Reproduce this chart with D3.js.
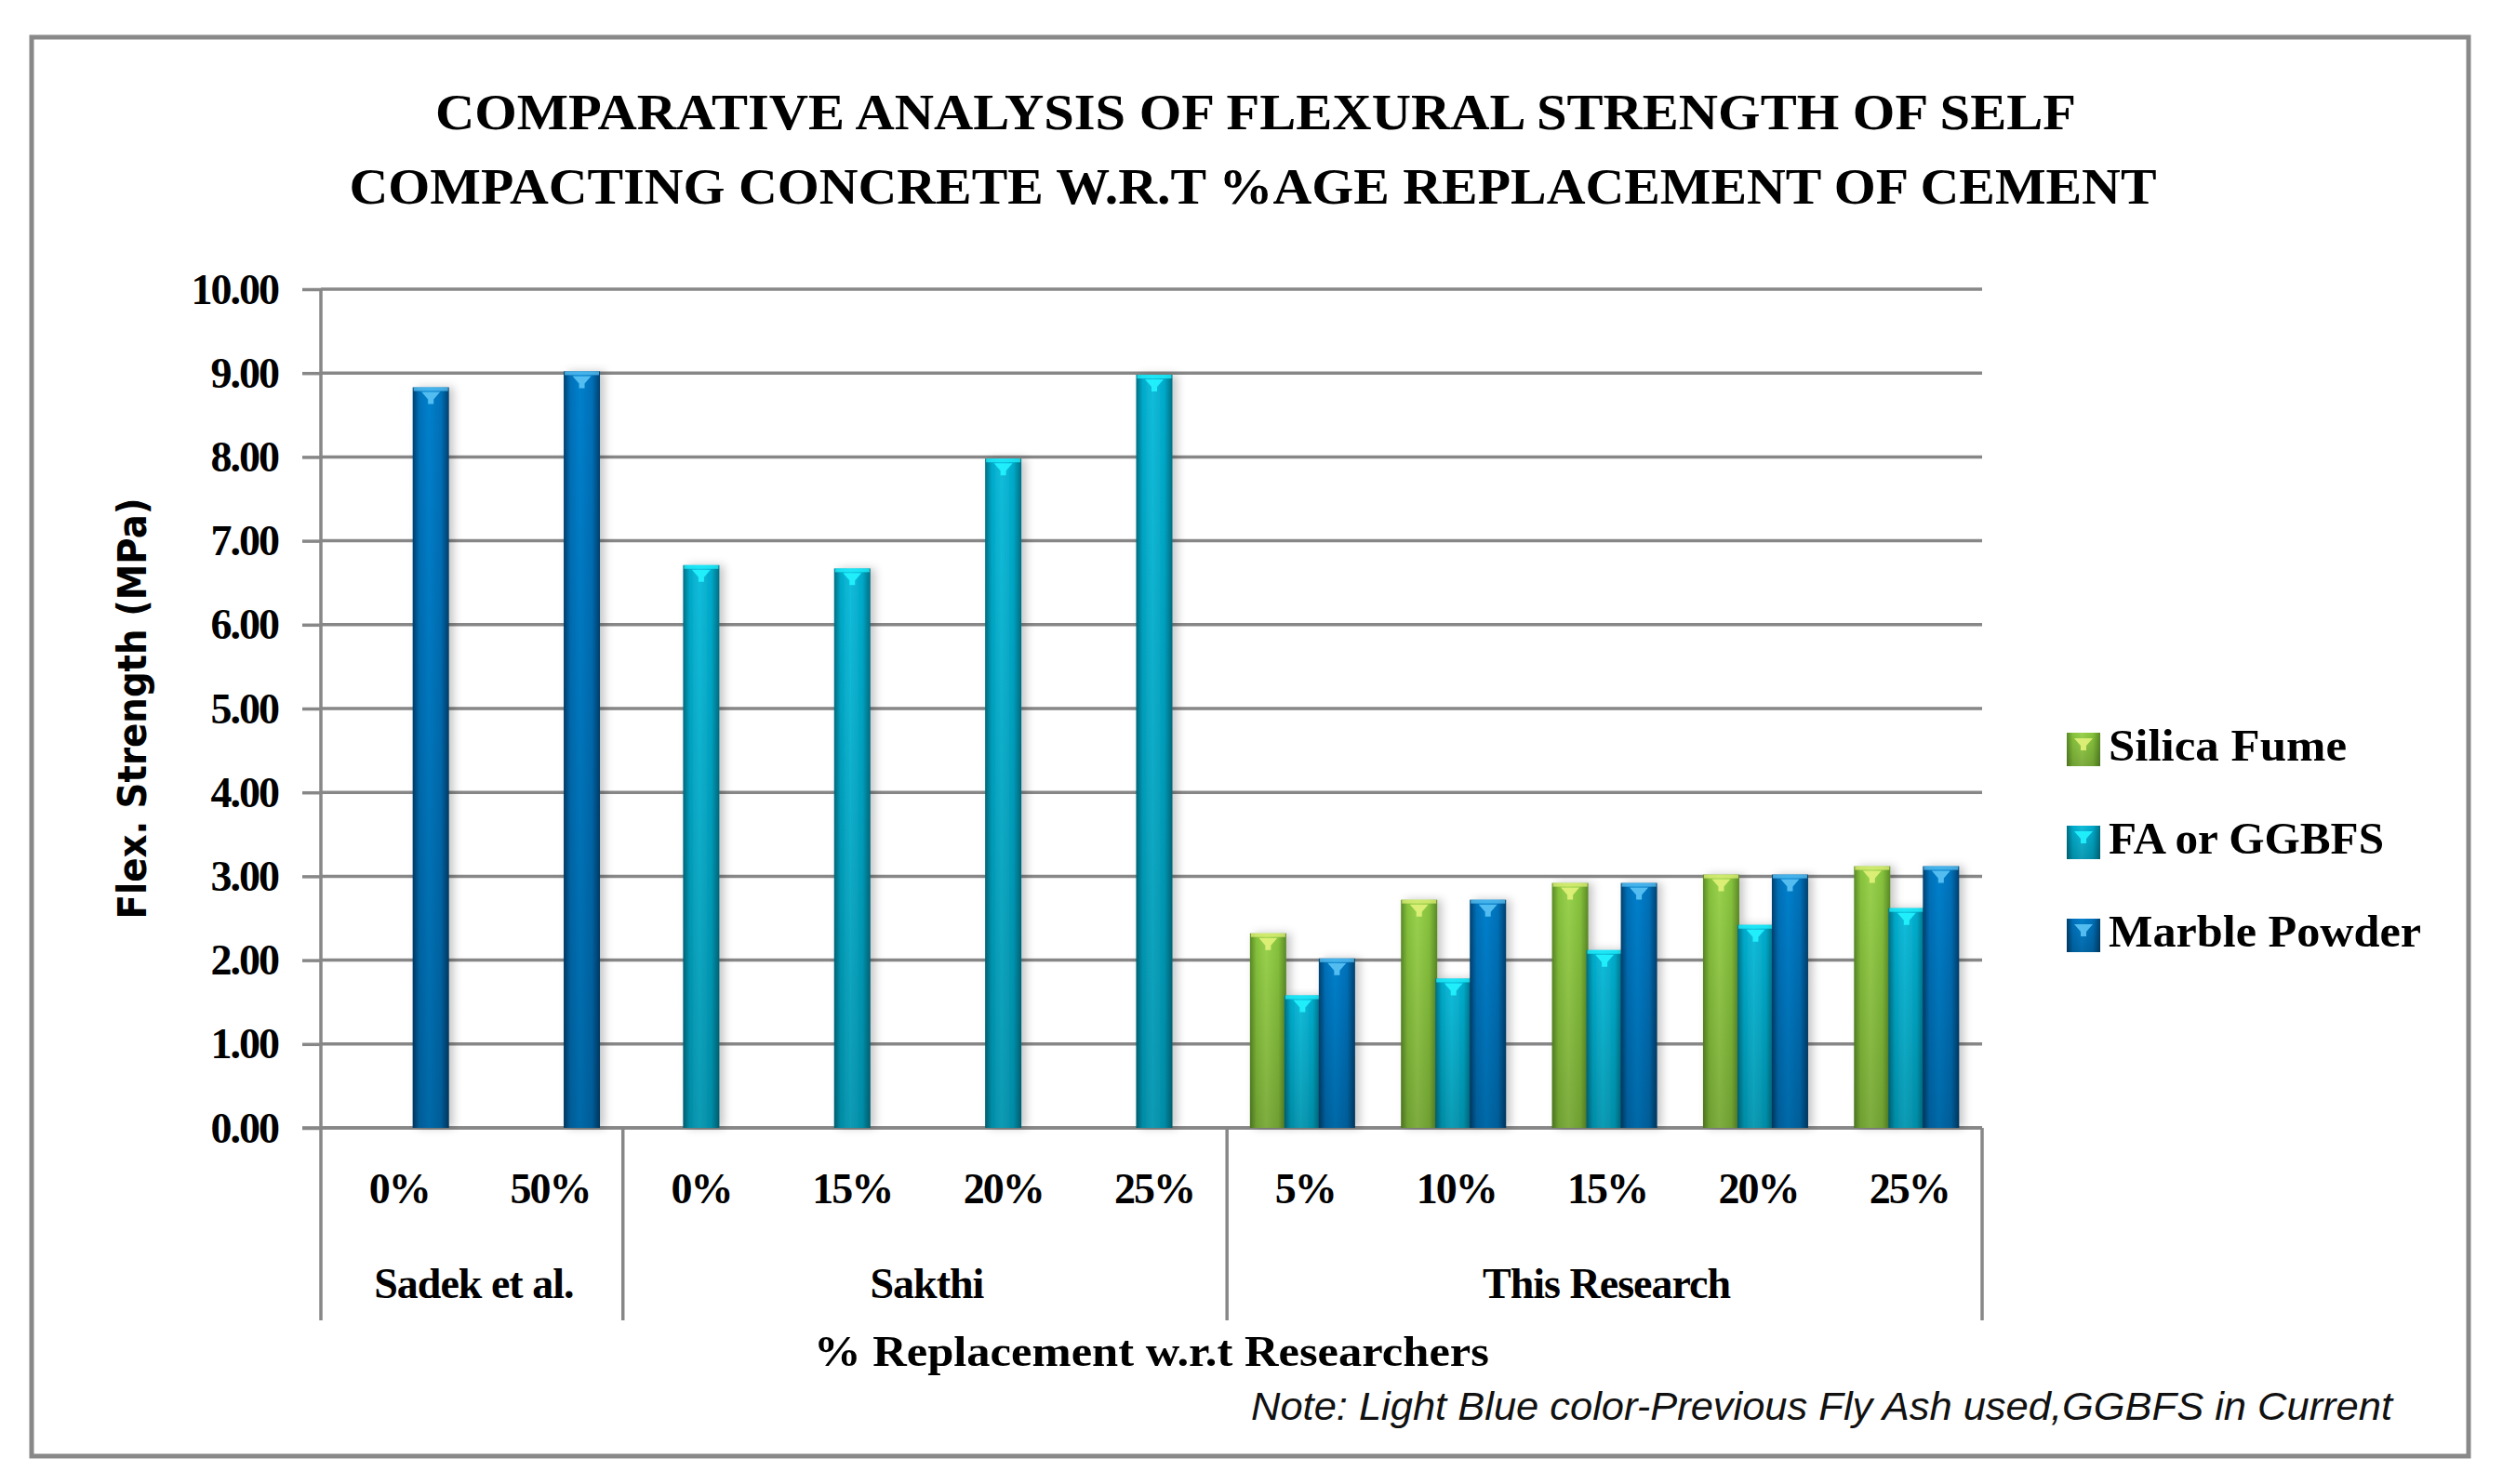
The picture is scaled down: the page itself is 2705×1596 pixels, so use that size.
<!DOCTYPE html>
<meta charset="utf-8">
<style>
  body { margin: 0; background: #fff; }
  text { font-family: "Liberation Serif", "DejaVu Serif", serif; font-weight: bold; fill: #000; }
</style>
<body>
<script src="https://d3js.org/d3.v7.min.js"></script>
<script>

// data
var groupNames = ["Sadek et al.", "Sakthi", "This Research"];
var categoryGroups = ["Sadek et al.", "Sadek et al.",
  "Sakthi", "Sakthi", "Sakthi", "Sakthi",
  "This Research", "This Research", "This Research", "This Research", "This Research"];
var categoryLabels = ["0%", "50%", "0%", "15%", "20%", "25%", "5%", "10%", "15%", "20%", "25%"];

var seriesNames = ["Silica Fume", "FA or GGBFS", "Marble Powder"];
var silicaFume   = [null, null, null, null, null, null, 2.32, 2.72, 2.92, 3.02, 3.12];
var faOrGgbfs    = [null, null, 6.71, 6.67, 7.98, 8.98, 1.58, 1.78, 2.12, 2.42, 2.62];
var marblePowder = [8.83, 9.02, null, null, null, null, 2.02, 2.72, 2.92, 3.02, 3.12];

var yTickValues = [0, 1, 2, 3, 4, 5, 6, 7, 8, 9, 10];

var titleLines = ["COMPARATIVE ANALYSIS OF FLEXURAL STRENGTH OF SELF",
                  "COMPACTING CONCRETE W.R.T %AGE REPLACEMENT OF CEMENT"];

var width = 2705,
    height = 1596;

var plotLeft = 345, plotRight = 2131, plotTop = 311, plotBottom = 1213, catBottom = 1420;

var svg = d3.select("body").append("svg")
    .attr("width", width)
    .attr("height", height);

var defs = svg.append("defs");

var palette = [
  {name: "green", edge: "#5a8a26", body: "#86c23c", light: "#9ad24e", cap: "#e2f27a"},
  {name: "cyan",  edge: "#006f84", body: "#00a9c9", light: "#12bddb", cap: "#22f4ff"},
  {name: "blue",  edge: "#00406f", body: "#0070b8", light: "#0580cc", cap: "#5cc4f5"}
];

palette.forEach(function(p) {
  var g = defs.append("linearGradient")
      .attr("id", "grad-" + p.name)
      .attr("x1", 0).attr("x2", 1).attr("y1", 0).attr("y2", 0);
  g.append("stop").attr("offset", "0%").attr("stop-color", p.edge);
  g.append("stop").attr("offset", "18%").attr("stop-color", p.body);
  g.append("stop").attr("offset", "45%").attr("stop-color", p.light);
  g.append("stop").attr("offset", "78%").attr("stop-color", p.body);
  g.append("stop").attr("offset", "100%").attr("stop-color", p.edge);
  var v = defs.append("linearGradient")
      .attr("id", "shade-" + p.name)
      .attr("x1", 0).attr("x2", 0).attr("y1", 0).attr("y2", 1);
  v.append("stop").attr("offset", "0%").attr("stop-color", "#000").attr("stop-opacity", 0);
  v.append("stop").attr("offset", "100%").attr("stop-color", "#000").attr("stop-opacity", 0.18);
});

var shadow = defs.append("filter").attr("id", "shadow")
    .attr("x", "-30%").attr("y", "-5%").attr("width", "180%").attr("height", "110%");
shadow.append("feDropShadow")
    .attr("dx", 5).attr("dy", 0).attr("stdDeviation", 5)
    .attr("flood-color", "#000").attr("flood-opacity", 0.22);

// outer frame
svg.append("rect")
    .attr("x", 34).attr("y", 40)
    .attr("width", 2654 - 34).attr("height", 1566 - 40)
    .attr("fill", "#fff")
    .attr("stroke", "#898989")
    .attr("stroke-width", 5);

// title
svg.selectAll(".title")
    .data(titleLines)
    .enter().append("text")
    .attr("class", "title")
    .attr("x", function(d, i) { return i == 0 ? 1350 : 1347; })
    .attr("y", function(d, i) { return 139 + i * 80; })
    .attr("text-anchor", "middle")
    .attr("font-size", 54)
    .attr("textLength", function(d, i) { return i == 0 ? 1764 : 1943; })
    .attr("lengthAdjust", "spacingAndGlyphs")
    .text(function(d) { return d; });

var x = d3.scaleBand()
    .domain(d3.range(categoryLabels.length))
    .range([plotLeft, plotRight]);

var offset = d3.scalePoint()
    .domain(seriesNames)
    .range([-37, 37]);

var y = d3.scaleLinear()
    .domain([0, 10])
    .range([plotBottom, plotTop]);

var barWidth = 39;

// gridlines
svg.append("g").selectAll("line")
    .data(yTickValues)
    .enter().append("line")
    .attr("x1", plotLeft).attr("x2", plotRight)
    .attr("y1", function(d) { return y(d); })
    .attr("y2", function(d) { return y(d); })
    .attr("stroke", "#878787")
    .attr("stroke-width", 3.5);

// y axis with ticks out to the left
var yAxis = svg.append("g")
    .attr("transform", "translate(" + plotLeft + ",0)")
    .call(d3.axisLeft(y)
        .tickValues(yTickValues)
        .tickSize(20)
        .tickPadding(26)
        .tickFormat(d3.format(".2f")));
yAxis.select(".domain").remove();
yAxis.selectAll(".tick line").attr("stroke", "#878787").attr("stroke-width", 3.5);
yAxis.selectAll(".tick text")
    .style("font-family", "'Liberation Serif', serif")
    .style("font-weight", "bold")
    .style("font-size", "46px")
    .style("letter-spacing", "-2px")
    .style("fill", "#000")
    .attr("dy", "0.33em");

// category area lines
var axisColor = "#878787";
svg.append("line")
    .attr("x1", plotLeft).attr("x2", plotLeft).attr("y1", plotTop).attr("y2", catBottom)
    .attr("stroke", axisColor).attr("stroke-width", 3.5);
svg.append("line")
    .attr("x1", plotLeft - 20).attr("x2", plotRight).attr("y1", plotBottom).attr("y2", plotBottom)
    .attr("stroke", axisColor).attr("stroke-width", 3.5);

var groupSpans = groupNames.map(function(g) {
  var idx = d3.range(categoryGroups.length).filter(function(i) { return categoryGroups[i] == g; });
  return {name: g, x0: x(idx[0]), x1: x(idx[idx.length - 1]) + x.bandwidth()};
});

svg.append("g").selectAll("line")
    .data(groupSpans)
    .enter().append("line")
    .attr("x1", function(d) { return d.x1; })
    .attr("x2", function(d) { return d.x1; })
    .attr("y1", plotBottom).attr("y2", catBottom)
    .attr("stroke", axisColor).attr("stroke-width", 3.5);

// bars
var seriesValues = [silicaFume, faOrGgbfs, marblePowder];

function drawBar(sel, cx, yTop, yBase, p) {
  var w = barWidth;
  sel.append("rect")
      .attr("x", cx - w / 2).attr("y", yTop)
      .attr("width", w).attr("height", yBase - yTop)
      .attr("fill", "url(#grad-" + p.name + ")")
      .attr("filter", "url(#shadow)");
  sel.append("rect")
      .attr("x", cx - w / 2).attr("y", yTop)
      .attr("width", w).attr("height", yBase - yTop)
      .attr("fill", "url(#shade-" + p.name + ")");
  sel.append("rect")
      .attr("x", cx - w / 2 + 1).attr("y", yTop)
      .attr("width", w - 2).attr("height", 4)
      .attr("fill", p.cap).attr("opacity", 0.75);
  sel.append("path")
      .attr("d", "M" + (cx - 10) + "," + (yTop + 5) + "H" + (cx + 10) +
                 "L" + (cx + 3) + "," + (yTop + 13) + "V" + (yTop + 18) +
                 "H" + (cx - 3) + "V" + (yTop + 13) + "Z")
      .attr("fill", p.cap).attr("opacity", 0.9);
}

seriesNames.forEach(function(name, s) {
  var g = svg.append("g").attr("class", "series");
  seriesValues[s].forEach(function(v, i) {
    if (v == null) return;
    var cx = x(i) + x.bandwidth() / 2;
    // Sakthi's bars sit near the middle, the others take their series slot
    if (categoryGroups[i] == "Sakthi") cx += 3;
    else cx += offset(name);
    drawBar(g, cx, y(v), y(0), palette[s]);
  });
});

// category labels
svg.append("g").selectAll("text")
    .data(categoryLabels)
    .enter().append("text")
    .attr("x", function(d, i) { return x(i) + x.bandwidth() / 2 + 3; })
    .attr("y", 1294)
    .attr("text-anchor", "middle")
    .attr("font-size", 46)
    .attr("letter-spacing", -2)
    .text(function(d) { return d; });

svg.append("g").selectAll("text")
    .data(groupSpans)
    .enter().append("text")
    .attr("x", function(d) { return (d.x0 + d.x1) / 2 + 2; })
    .attr("y", 1396)
    .attr("text-anchor", "middle")
    .attr("font-size", 46)
    .attr("letter-spacing", -1)
    .text(function(d) { return d.name; });

// axis titles
svg.append("text")
    .attr("x", (plotLeft + plotRight) / 2)
    .attr("y", 1469)
    .attr("text-anchor", "middle")
    .attr("font-size", 46)
    .attr("textLength", 726)
    .attr("lengthAdjust", "spacingAndGlyphs")
    .text("% Replacement w.r.t Researchers");

svg.append("text")
    .attr("transform", "translate(157," + ((plotTop + plotBottom) / 2) + ") rotate(-90)")
    .attr("text-anchor", "middle")
    .style("font-family", "'DejaVu Sans', sans-serif")
    .attr("font-size", 42)
    .attr("textLength", 453)
    .attr("lengthAdjust", "spacingAndGlyphs")
    .text("Flex. Strength (MPa)");

// note
svg.append("text")
    .attr("x", 2572)
    .attr("y", 1527)
    .attr("text-anchor", "end")
    .style("font-family", "'Liberation Sans', sans-serif")
    .style("font-weight", "normal")
    .style("font-style", "italic")
    .style("fill", "#111")
    .attr("font-size", 42)
    .attr("textLength", 1227)
    .attr("lengthAdjust", "spacingAndGlyphs")
    .text("Note: Light Blue color-Previous Fly Ash used,GGBFS in Current");

// legend
var legendWidths = [256, 296, 336];
var legend = svg.append("g").selectAll("g")
    .data(seriesNames)
    .enter().append("g")
    .attr("transform", function(d, i) { return "translate(2222," + (788 + i * 100) + ")"; });

legend.each(function(d, i) {
  var g = d3.select(this), p = palette[i];
  g.append("rect").attr("width", 36).attr("height", 36)
      .attr("fill", "url(#grad-" + p.name + ")");
  g.append("rect").attr("width", 36).attr("height", 36)
      .attr("fill", "url(#shade-" + p.name + ")");
  g.append("path")
      .attr("d", "M8,6H28L21,14V19H15V14Z")
      .attr("fill", p.cap).attr("opacity", 0.9);
  g.append("text")
      .attr("x", 45)
      .attr("y", 30)
      .attr("font-size", 48)
      .attr("textLength", legendWidths[i])
      .attr("lengthAdjust", "spacingAndGlyphs")
      .text(d);
});

</script>
